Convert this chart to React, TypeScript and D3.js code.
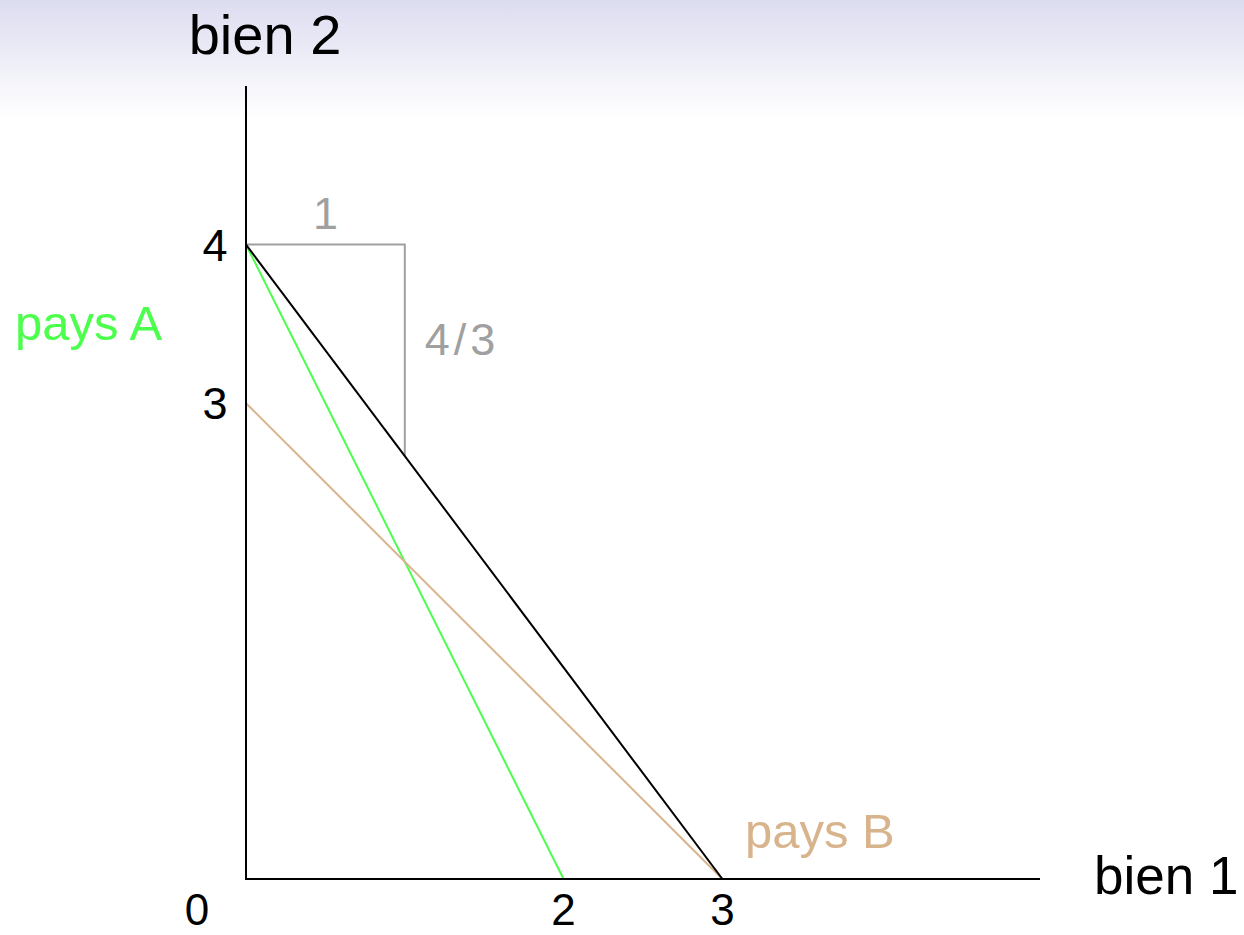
import React, { useEffect, useRef } from 'react';
import * as d3 from 'd3';

// points (bien 1, bien 2) of each frontier
const paysA = [[0, 4], [2, 0]];
const paysB = [[0, 3], [3, 0]];
const monde = [[0, 4], [3, 0]];
const pente = [[0, 4], [1, 4], [1, 4 - 4 / 3]];
const xTicks = [2, 3];
const yTicks = [3, 4];
const pentLabels = ['1', '4/3'];

const W = 1244;
const H = 935;
const FONT = '"Liberation Sans", Arial, sans-serif';

const App = () => {
    const ref = useRef();

    useEffect(() => {
        d3.select(ref.current).selectAll('*').remove();
        const svg = d3.select(ref.current);

        const x = d3.scaleLinear().domain([0, 5]).range([246, 1040]);
        const y = d3.scaleLinear().domain([0, 5]).range([879, 86]);

        // beamer header shading
        const defs = svg.append('defs');
        const grad = defs.append('linearGradient')
            .attr('id', 'hdr').attr('x1', 0).attr('y1', 0).attr('x2', 0).attr('y2', 1);
        grad.append('stop').attr('offset', '0%').attr('stop-color', '#dcdcf0');
        grad.append('stop').attr('offset', '100%').attr('stop-color', '#ffffff');
        svg.append('rect').attr('x', 0).attr('y', 0).attr('width', W).attr('height', 118)
            .attr('fill', 'url(#hdr)');

        const line = d3.line().x(d => x(d[0])).y(d => y(d[1]));

        // slope triangle
        svg.append('path').attr('d', line(pente))
            .attr('fill', 'none').attr('stroke', '#a0a0a0').attr('stroke-width', 2);

        svg.append('path').attr('d', line(paysA))
            .attr('fill', 'none').attr('stroke', '#4cff4c').attr('stroke-width', 2);
        svg.append('path').attr('d', line(paysB))
            .attr('fill', 'none').attr('stroke', '#d8b48c').attr('stroke-width', 2);
        svg.append('path').attr('d', line(monde))
            .attr('fill', 'none').attr('stroke', '#000').attr('stroke-width', 2);

        // axes
        svg.append('path').attr('d', line([[0, 5], [0, 0], [5, 0]]))
            .attr('fill', 'none').attr('stroke', '#000').attr('stroke-width', 2);

        const txt = (s, px, py, size, color, anchor = 'middle') =>
            svg.append('text').attr('x', px).attr('y', py)
                .attr('font-family', FONT).attr('font-size', size)
                .attr('fill', color).attr('text-anchor', anchor).text(s);

        txt('bien 2', x(0) + 19, 54, 56, '#000');
        txt('bien 1', 1094, y(0) + 15, 53, '#000', 'start');

        yTicks.forEach(t => txt(String(t), x(0) - 31, y(t) + 16, 45, '#000'));
        xTicks.forEach(t => txt(String(t), x(t), y(0) + 46, 44, '#000'));
        txt('0', x(0) - 49, y(0) + 46, 44, '#000');

        txt(pentLabels[0], (x(0) + x(1)) / 2, y(4) - 16, 45, '#a0a0a0');
        txt(pentLabels[1], x(1) + 20, 355, 45, '#a0a0a0', 'start')
            .attr('letter-spacing', 4);

        txt('pays A', 15, 340, 49, '#4cff4c', 'start');
        txt('pays B', 745, 848, 49, '#d8b48c', 'start');
    }, []);

    return (
        <svg ref={ref} width={W} height={H}
            style={{ position: 'absolute', left: 0, top: 0, background: '#fff' }} />
    );
};

export default App;
